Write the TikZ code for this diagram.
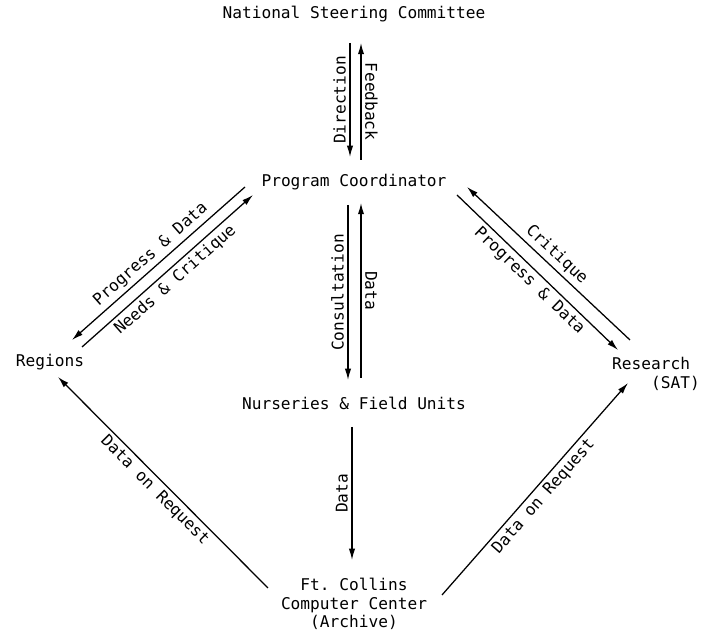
\documentclass[tikz,border=0pt]{standalone}
\usepackage{fontspec}
\setmonofont{DejaVu Sans Mono}
\usepackage{tikz}
\usetikzlibrary{arrows.meta}

\tikzset{
  unit/.style={font=\ttfamily\fontsize{11.5}{13}\selectfont, inner sep=2pt},
  lbl/.style={font=\ttfamily\fontsize{11.5}{13}\selectfont, inner sep=2.5pt},
  flow/.style={line width=0.9pt, -{Latex[length=8pt,width=4.5pt]}}
}

\begin{document}
\begin{tikzpicture}
\useasboundingbox (0,0) rectangle (17.725,15.775);
% Units
\node[unit] (nsc) at (8.85,15.425) {National Steering Committee};
\node[unit] (pc) at (8.85,11.225) {Program Coordinator};
\node[unit] (reg) at (1.25,6.725) {Regions};
\node[unit, align=left] (res) at (16.4,6.425) {Research\\\phantom{Rese}(SAT)};
\node[unit] (nfu) at (8.85,5.7) {Nurseries \& Field Units};
\node[unit, align=center] (ftc) at (8.85,0.675) {Ft. Collins\\Computer Center\\(Archive)};
% Vertical flows
\draw[flow] ([shift={(-0.1,-0.725)}]nsc.center) -- ([shift={(-0.1,0.625)}]pc.center)
  node[midway, rotate=90, anchor=south, lbl] {Direction};
\draw[flow] ([shift={(0.175,0.55)}]pc.center) -- ([shift={(0.175,-0.725)}]nsc.center)
  node[midway, rotate=-90, anchor=south, lbl] {Feedback};
\draw[flow] ([shift={(-0.15,-0.575)}]pc.center) -- ([shift={(-0.15,0.575)}]nfu.center)
  node[midway, rotate=90, anchor=south, lbl] {Consultation};
\draw[flow] ([shift={(0.175,0.625)}]nfu.center) -- ([shift={(0.175,-0.525)}]pc.center)
  node[midway, rotate=-90, anchor=south, lbl] {Data};
\draw[flow] ([shift={(-0.05,-0.6)}]nfu.center) -- ([shift={(-0.05,1.1)}]ftc.center)
  node[midway, rotate=90, anchor=south, lbl] {Data};
% Regions
\draw[flow] ([shift={(-2.725,-0.125)}]pc.center) -- ([shift={(0.55,0.55)}]reg.center)
  node[midway, sloped, above, lbl] {Progress \& Data};
\draw[flow] ([shift={(0.8,0.375)}]reg.center) -- ([shift={(-2.525,-0.325)}]pc.center)
  node[midway, sloped, below, lbl] {Needs \& Critique};
% Research
\draw[flow] ([shift={(-0.65,0.85)}]res.center) -- ([shift={(2.825,-0.125)}]pc.center)
  node[midway, sloped, above, lbl] {Critique};
\draw[flow] ([shift={(2.575,-0.325)}]pc.center) -- ([shift={(-0.95,0.6)}]res.center)
  node[midway, sloped, below, lbl] {Progress \& Data};
% Archive
\draw[flow] ([shift={(-2.15,0.4)}]ftc.center) -- ([shift={(0.2,-0.375)}]reg.center)
  node[midway, sloped, below, lbl] {Data on Request};
\draw[flow] ([shift={(2.2,0.225)}]ftc.center) -- ([shift={(-0.7,-0.225)}]res.center)
  node[midway, sloped, below, lbl] {Data on Request};
\end{tikzpicture}
\end{document}
